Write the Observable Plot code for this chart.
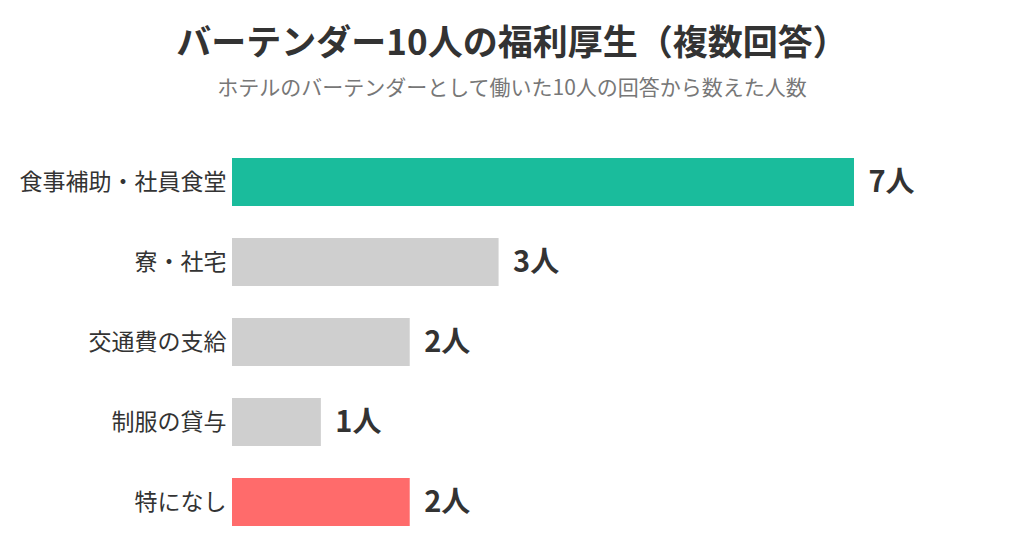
<!DOCTYPE html>
<html><head><meta charset="utf-8">
<script src="https://cdn.jsdelivr.net/npm/d3@7"></script>
<script src="https://cdn.jsdelivr.net/npm/@observablehq/plot@0.6"></script>
<style>
body{margin:0;background:#fff;font-family:"Noto Sans CJK JP","Noto Sans",sans-serif;}
#head{height:110px;width:1024px;text-align:center;}
#title{padding-top:18px;font-size:35px;line-height:44px;font-weight:bold;color:#333;}
#sub{margin-top:11px;font-size:21px;line-height:26px;color:#777;}
</style></head>
<body>
<div id="head"><div id="title">バーテンダー10人の福利厚生（複数回答）</div><div id="sub">ホテルのバーテンダーとして働いた10人の回答から数えた人数</div></div>
<div id="chart"></div>
<script>
const categories = ["食事補助・社員食堂", "寮・社宅", "交通費の支給", "制服の貸与", "特になし"];
const values = [7, 3, 2, 1, 2];
const colors = ["#1ABC9C", "#CFCFCF", "#CFCFCF", "#CFCFCF", "#FF6B6B"];
const unit = "人";
const data = categories.map((c, i) => ({cat: c, value: values[i], color: colors[i]}));
const chart = Plot.plot({
  width: 1024, height: 450,
  marginLeft: 232, marginRight: 170, marginTop: 16, marginBottom: 2,
  style: {fontFamily: '"Noto Sans CJK JP","Noto Sans",sans-serif', background: "#fff"},
  x: {domain: [0, 7], axis: null},
  y: {domain: categories, padding: 0.4, label: null},
  marks: [
    Plot.barX(data, {x: "value", y: "cat", fill: "color"}),
    Plot.text(data, {x: "value", y: "cat", text: d => d.value + unit, dx: 14, textAnchor: "start", fontSize: 29, fontWeight: "bold", fill: "#333"}),
    Plot.axisY({tickSize: 0, tickPadding: 6, fontSize: 23, label: null, color: "#333"})
  ]
});
document.getElementById("chart").appendChild(chart);
</script>
</body></html>
